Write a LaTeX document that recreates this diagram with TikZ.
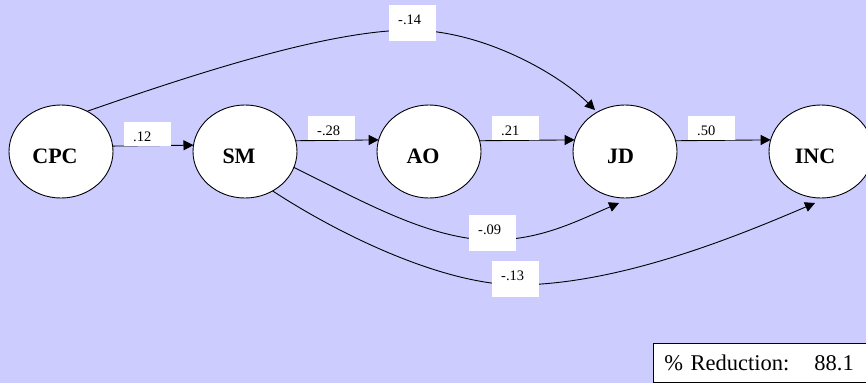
\documentclass[tikz,border=0pt]{standalone}
\usepackage{fontspec}
\setmainfont{Liberation Serif}
\usetikzlibrary{arrows.meta,shapes.geometric,calc}
\definecolor{bgc}{RGB}{204,204,255}
\begin{document}
\begin{tikzpicture}[x=1pt,y=-1pt,
  var/.style={ellipse,draw=black,line width=0.9pt,fill=white,minimum width=104pt,minimum height=93pt,
    inner sep=0pt,outer sep=0pt,font=\fontsize{22}{26}\selectfont\bfseries,text height=23.6pt,text depth=0pt},
  conn/.style={draw=black,line width=0.9pt,-{Triangle[length=10pt,width=10pt]}},
  lab/.style={anchor=north west,fill=white,inner xsep=9pt,inner ysep=0pt,text width=29pt,align=left,
    font=\fontsize{14.5}{16}\selectfont,text height=19pt},
  shortlab/.style={lab,text depth=5pt},
  talllab/.style={lab,text depth=17pt},
  redbox/.style={anchor=north west,draw=black,line width=0.9pt,fill=white,inner xsep=11pt,inner ysep=0pt,
    text width=240pt,align=left,font=\fontsize{22.5}{26}\selectfont,text height=27pt,text depth=12pt}
]
\useasboundingbox (0,0) rectangle (866,383);
\clip (0,0) rectangle (866,383);
\fill[bgc] (0,0) rectangle (866,383);

% variables
\node[var] (CPC) at (61,151.5) {CPC\kern12pt};
\node[var] (SM)  at (245,151.5) {SM\kern12pt};
\node[var] (AO)  at (429,151.5) {AO\kern12pt};
\node[var] (JD)  at (625,151.5) {JD\kern9pt};
\node[var] (INC) at (821,151.5) {INC\kern12pt};

% free ends of curved connectors
\coordinate (JDtop) at ($(JD.north)+(-30,5)$);
\coordinate (JDbot) at ($(JD.south)+(-6,5)$);
\coordinate (INCbot) at ($(INC.south)+(-6,5)$);

% straight connectors
\draw[conn] (CPC.6.6) -- (SM.173.4);
\draw[conn] (SM.12.85) -- (AO.167.15);
\draw[conn] (AO.12.85) -- (JD.167.15);
\draw[conn] (JD.12.85) -- (INC.167.15);

% curved connectors
\draw[conn] (CPC.57) .. controls (200,72) and (330,30) .. (412,30)
  .. controls (485,31) and (560,75) .. (JDtop);
\draw[conn] (SM.-18) .. controls (360,200) and (430,240) .. (492,240)
  .. controls (540,240) and (575,222) .. (JDbot);
\draw[conn] (SM.-55) .. controls (340,235) and (440,283) .. (515,285)
  .. controls (620,285) and (740,235) .. (INCbot);

% coefficient labels
\node[shortlab] (l12) at (124,122) {.12};
\node[shortlab] (l28) at (308,116) {-.28};
\node[shortlab] (l21) at (492,116) {.21};
\node[shortlab] (l50) at (688,116) {.50};
\node[talllab] (l14) at (389,5) {-.14};
\node[talllab] (l09) at (469,215) {-.09};
\node[talllab] (l13) at (492,261) {-.13};

% reduction box
\node[redbox] (red) at (653,343) {\% Reduction:\hspace{25pt}88.1};
\end{tikzpicture}
\end{document}
